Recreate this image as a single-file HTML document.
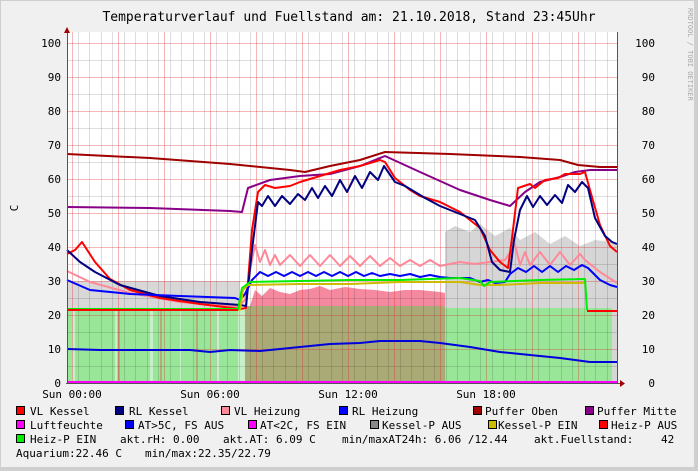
<!DOCTYPE html>
<html><head><meta charset="utf-8"><style>
html,body{margin:0;padding:0;background:#f0f0f0}
svg{display:block}
text{font-family:"DejaVu Sans Mono","Liberation Mono",monospace;font-size:11px;fill:#000}
</style></head><body>
<svg width="698" height="471" viewBox="0 0 698 471" xmlns="http://www.w3.org/2000/svg">
<rect x="0" y="0" width="698" height="471" fill="#f0f0f0"/>
<rect x="0.5" y="0.5" width="697" height="470" fill="none" stroke="#cfcfcf"/>
<rect x="694" y="0" width="4" height="471" fill="#cfcfcf"/>
<rect x="0" y="467" width="698" height="4" fill="#cfcfcf"/>
<text x="349" y="21" text-anchor="middle" style="font-size:13px">Temperaturverlauf und Fuellstand am: 21.10.2018, Stand 23:45Uhr</text>
<text transform="translate(688,8) rotate(90)" style="font-size:7px;fill:#aaa">RRDTOOL / TOBI OETIKER</text>
<!-- plot bg -->
<rect x="67" y="32" width="550" height="351" fill="#fff"/>
<!-- fills -->
<polygon fill="#d8d8d8" points="67,281 240,281 240,383 67,383"/>
<polygon fill="#d6d6d6" points="445,232 455,226 470,232 480,224 495,236 510,228 520,240 535,232 550,244 565,236 580,246 595,240 612,242 617,244 617,383 445,383"/>
<rect x="67" y="308" width="178" height="75" fill="#99e699"/>
<rect x="245" y="306" width="200" height="77" fill="#aaaa77"/>
<rect x="445" y="308" width="167" height="75" fill="#99e699"/>
<rect x="238" y="308" width="7" height="75" fill="#c8f0c8"/>
<g fill="#c8f0c8"><rect x="72" y="308" width="3" height="75"/><rect x="115" y="308" width="2" height="75"/><rect x="150" y="308" width="3" height="75"/><rect x="180" y="308" width="2" height="75"/><rect x="216" y="308" width="3" height="75"/></g>
<g fill="#b5ab7a"><rect x="118" y="308" width="2" height="75"/><rect x="160" y="308" width="2" height="75"/><rect x="196" y="308" width="2" height="75"/></g>
<polygon fill="#f4899f" points="250,306 255,290 262,296 270,288 280,292 290,294 300,290 310,289 320,286 330,290 345,287 360,289 375,290 390,292 405,290 420,290 440,292 445,293 445,306"/>
<!-- grid -->
<g stroke="#000" stroke-opacity="0.13" stroke-width="1">
<path d="M78.5 32V383M89.5 32V383M101.5 32V383M112.5 32V383M124.5 32V383M135.5 32V383M147.5 32V383M158.5 32V383M170.5 32V383M181.5 32V383M193.5 32V383M204.5 32V383M216.5 32V383M227.5 32V383M239.5 32V383M250.5 32V383M262.5 32V383M273.5 32V383M285.5 32V383M296.5 32V383M308.5 32V383M319.5 32V383M331.5 32V383M342.5 32V383M354.5 32V383M365.5 32V383M377.5 32V383M388.5 32V383M400.5 32V383M411.5 32V383M423.5 32V383M434.5 32V383M446.5 32V383M457.5 32V383M469.5 32V383M480.5 32V383M492.5 32V383M503.5 32V383M515.5 32V383M526.5 32V383M538.5 32V383M549.5 32V383M561.5 32V383M572.5 32V383M584.5 32V383M595.5 32V383M607.5 32V383"/>
<path d="M67 60.5H617M67 94.5H617M67 128.5H617M67 162.5H617M67 196.5H617M67 230.5H617M67 264.5H617M67 298.5H617M67 332.5H617M67 366.5H617"/>
</g>
<g stroke="#e03030" stroke-opacity="0.35" stroke-width="1">
<path d="M72.5 32V383M118.5 32V383M164.5 32V383M210.5 32V383M256.5 32V383M302.5 32V383M348.5 32V383M394.5 32V383M440.5 32V383M486.5 32V383M532.5 32V383M578.5 32V383"/>
<path d="M67 43.5H617M67 77.5H617M67 111.5H617M67 145.5H617M67 179.5H617M67 213.5H617M67 247.5H617M67 281.5H617M67 315.5H617M67 349.5H617"/>
</g>
<!-- series -->
<g fill="none" stroke-width="2" stroke-linejoin="round">
<polyline stroke="#a00000" points="67,154 150,158 230,164 290,170 305,172 330,166 360,160 385,152 450,154 520,157 560,160 578,165 600,167 617,167"/>
<polyline stroke="#880088" points="67,207 150,208 230,211 242,212 248,188 270,180 300,176 330,174 360,166 385,156 420,172 460,190 490,200 510,206 525,192 540,182 560,177 575,172 590,170 617,170"/>
<polyline stroke="#ff8899" points="67,271 90,282 130,293 180,302 238,307 245,300 250,270 255,245 260,262 265,250 270,265 275,255 280,265 290,255 300,266 310,255 320,266 330,255 340,266 350,256 360,266 370,256 380,266 390,258 400,266 410,260 420,266 430,260 440,266 450,264 460,262 475,264 490,262 505,260 515,245 520,265 525,252 530,265 540,252 550,265 560,252 570,265 580,254 585,260 600,272 617,283"/>
<polyline stroke="#ff0000" points="67,254 75,250 82,242 95,262 110,279 130,290 160,298 200,304 240,309 246,308 252,230 258,192 265,185 275,188 290,186 300,182 320,176 340,170 360,166 380,160 385,162 395,178 410,190 420,196 440,202 460,212 470,220 480,228 490,250 500,262 508,268 512,238 518,188 530,184 535,188 545,180 558,178 565,174 580,174 585,172 590,190 600,225 610,246 617,252"/>
<polyline stroke="#000080" points="67,250 80,262 95,272 120,285 160,296 200,302 240,305 246,306 252,250 258,202 262,206 268,196 275,206 282,196 290,204 298,194 305,200 312,188 318,198 325,186 332,196 340,180 347,192 355,176 362,188 370,172 378,180 384,166 395,182 405,186 415,192 425,198 440,206 460,214 475,220 485,236 492,262 500,270 510,272 514,240 520,210 527,196 533,207 540,196 547,205 555,195 562,203 568,185 575,192 582,182 588,188 595,218 605,236 612,242 617,244"/>
<polyline stroke="#0000ff" points="67,280 90,290 130,294 180,296 235,298 240,300 245,294 252,280 260,272 268,276 276,272 284,276 292,272 300,276 308,272 316,276 324,272 332,276 340,272 348,276 356,272 364,276 372,273 380,276 390,274 400,276 410,274 420,277 430,275 440,277 450,278 460,278 470,278 480,282 488,280 495,283 505,282 510,274 518,268 526,272 534,266 542,272 550,266 558,272 566,266 574,270 582,265 588,268 600,280 610,285 617,287"/>
<polyline stroke="#0000dd" points="67,349 100,350 150,350 190,350 210,352 230,350 260,351 300,347 330,344 360,343 380,341 420,341 440,343 470,347 500,352 530,355 560,358 590,362 617,362"/>
<polyline stroke="#ccbb00" points="67,310 240,310 243,290 248,285 300,284 350,284 400,282 460,282 480,285 500,285 540,283 585,283"/>
<polyline stroke="#00ee00" points="67,309 238,309 242,288 250,282 300,281 350,280 400,280 460,278 480,281 484,286 490,282 540,280 585,279 587,310"/>
<polyline stroke="#ff0000" points="67,310 238,310 M587,312"/>
<polyline stroke="#ff0000" points="587,311 617,311"/>
<polyline stroke="#ff00ff" points="67,382 617,382"/>
</g>
<!-- axes -->
<g stroke="#555" stroke-width="1">
<path d="M67.5 32V384M66 383.5H620M617.5 32V384"/>
</g>
<polygon points="64,33 70,33 67,27" fill="#a00000"/>
<polygon points="620,380 620,387 625,383.5" fill="#a00000"/>
<!-- y labels -->
<g text-anchor="end">
<text x="61" y="47">100</text><text x="61" y="81">90</text><text x="61" y="115">80</text><text x="61" y="149">70</text><text x="61" y="183">60</text><text x="61" y="217">50</text><text x="61" y="251">40</text><text x="61" y="285">30</text><text x="61" y="319">20</text><text x="61" y="353">10</text><text x="61" y="387">0</text>
<text x="655" y="47">100</text><text x="655" y="81">90</text><text x="655" y="115">80</text><text x="655" y="149">70</text><text x="655" y="183">60</text><text x="655" y="217">50</text><text x="655" y="251">40</text><text x="655" y="285">30</text><text x="655" y="319">20</text><text x="655" y="353">10</text><text x="655" y="387">0</text>
</g>
<text transform="translate(18,208) rotate(-90)" text-anchor="middle">C</text>
<g text-anchor="middle">
<text x="72" y="398">Sun 00:00</text><text x="210" y="398">Sun 06:00</text><text x="348" y="398">Sun 12:00</text><text x="486" y="398">Sun 18:00</text>
</g>
<!-- legend -->
<g stroke="#000" stroke-width="1">
<rect x="16.5" y="406.5" width="8" height="8" fill="#ff0000"/>
<rect x="115.5" y="406.5" width="8" height="8" fill="#000080"/>
<rect x="221.5" y="406.5" width="8" height="8" fill="#ff8899"/>
<rect x="339.5" y="406.5" width="8" height="8" fill="#0000ff"/>
<rect x="473.5" y="406.5" width="8" height="8" fill="#a00000"/>
<rect x="585.5" y="406.5" width="8" height="8" fill="#880088"/>
<rect x="16.5" y="420.5" width="8" height="8" fill="#ff00ff"/>
<rect x="125.5" y="420.5" width="8" height="8" fill="#0000ff"/>
<rect x="248.5" y="420.5" width="8" height="8" fill="#ff00ff"/>
<rect x="370.5" y="420.5" width="8" height="8" fill="#888888"/>
<rect x="488.5" y="420.5" width="8" height="8" fill="#ccbb00"/>
<rect x="599.5" y="420.5" width="8" height="8" fill="#ff0000"/>
<rect x="16.5" y="434.5" width="8" height="8" fill="#00ee00"/>
</g>
<text x="30" y="415">VL Kessel</text>
<text x="129" y="415">RL Kessel</text>
<text x="234" y="415">VL Heizung</text>
<text x="352" y="415">RL Heizung</text>
<text x="485" y="415">Puffer Oben</text>
<text x="597" y="415">Puffer Mitte</text>
<text x="30" y="429">Luftfeuchte</text>
<text x="138" y="429">AT&gt;5C, FS AUS</text>
<text x="260" y="429">AT&lt;2C, FS EIN</text>
<text x="382" y="429">Kessel-P AUS</text>
<text x="498" y="429">Kessel-P EIN</text>
<text x="611" y="429">Heiz-P AUS</text>
<text x="30" y="443">Heiz-P EIN</text>
<text x="120" y="443">akt.rH: 0.00</text>
<text x="223" y="443">akt.AT: 6.09 C</text>
<text x="342" y="443">min/maxAT24h: 6.06 /12.44</text>
<text x="534" y="443">akt.Fuellstand:</text>
<text x="661" y="443">42</text>
<text x="16" y="457">Aquarium:22.46 C</text>
<text x="145" y="457">min/max:22.35/22.79</text>
</svg>
</body></html>
